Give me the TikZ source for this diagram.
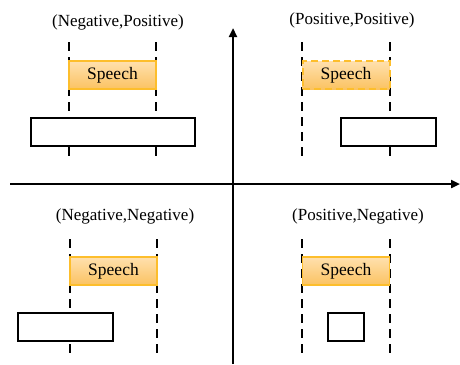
\documentclass[tikz,border=0pt]{standalone}
\usepackage{fontspec}
\setmainfont{Liberation Serif}
\usetikzlibrary{arrows.meta}
\definecolor{speechtop}{HTML}{FFE0AE}
\definecolor{speechbot}{HTML}{FBC362}
\definecolor{speechedge}{HTML}{FDBE2C}
\tikzset{
  axis/.style={line width=2.5pt,-{Triangle[length=9pt,width=8pt]}},
  guide/.style={line width=2.2pt,dash pattern=on 9pt off 6pt},
  speechbox/.style={draw=speechedge,line width=1.3pt,top color=speechtop,bottom color=speechbot,
    minimum width=87pt,minimum height=28pt,inner sep=0pt,font=\fontsize{17.5}{19}\selectfont},
  spandash/.style={speechbox,dash pattern=on 7pt off 4pt,line width=2pt},
  span/.style={draw=black,fill=white,line width=1.4pt,inner sep=0pt,minimum height=28pt},
  title/.style={font=\fontsize{17}{19}\selectfont,inner sep=0pt}
}
\begin{document}
\begin{tikzpicture}[x=1pt,y=-1pt]
\useasboundingbox (0,0) rectangle (460,364);
% axes
\coordinate (xs) at (10,184);
\coordinate (xe) at (460,184);
\coordinate (ys) at (233,364);
\coordinate (ye) at (233,28);
\draw[axis] (xs) -- (xe);
\draw[axis] (ys) -- (ye);

% quadrant titles
\node[title] (t1) at (118,22) {(Negative,Positive)};
\node[title] (t2) at (352,20) {(Positive,Positive)};
\node[title] (t3) at (125,216) {(Negative,Negative)};
\node[title] (t4) at (358,216) {(Positive,Negative)};

% guide lines
\coordinate (a1) at (69,42);  \coordinate (b1) at (69,158);
\coordinate (a2) at (156,42); \coordinate (b2) at (156,158);
\coordinate (a3) at (302,42); \coordinate (b3) at (302,158);
\coordinate (a4) at (390,42); \coordinate (b4) at (390,158);
\coordinate (a5) at (70,239); \coordinate (b5) at (70,356);
\coordinate (a6) at (157,239);\coordinate (b6) at (157,356);
\coordinate (a7) at (302,239);\coordinate (b7) at (302,356);
\coordinate (a8) at (390,239);\coordinate (b8) at (390,356);
\foreach \i in {1,...,8} {\draw[guide] (a\i) -- (b\i);}

% speech segments
\node[speechbox] (s1) at (112.5,75) {Speech};
\node[spandash] (s2) at (346,75) {Speech};
\node[speechbox] (s3) at (113.5,271) {Speech};
\node[speechbox] (s4) at (346,271) {Speech};

% compared spans
\node[span,minimum width=164pt] (r1) at (113,132) {};
\node[span,minimum width=95pt] (r2) at (388.5,132) {};
\node[span,minimum width=95pt] (r3) at (65.5,327) {};
\node[span,minimum width=36pt] (r4) at (346,327) {};
\end{tikzpicture}
\end{document}
